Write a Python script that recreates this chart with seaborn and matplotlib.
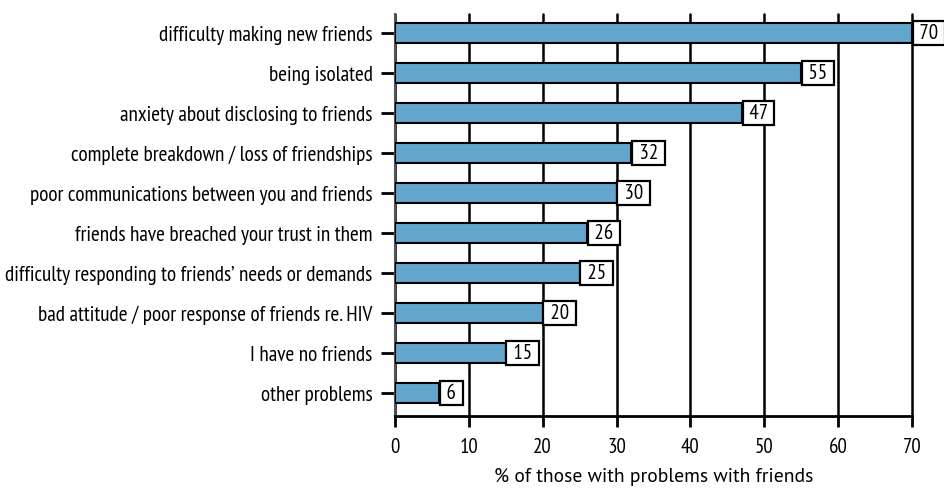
import matplotlib
matplotlib.use("Agg")
import matplotlib.pyplot as plt
import seaborn as sns
import pandas as pd

categories = [
    "difficulty making new friends",
    "being isolated",
    "anxiety about disclosing to friends",
    "complete breakdown / loss of friendships",
    "poor communications between you and friends",
    "friends have breached your trust in them",
    "difficulty responding to friends\u2019 needs or demands",
    "bad attitude / poor response of friends re. HIV",
    "I have no friends",
    "other problems",
]
values = [70, 55, 47, 32, 30, 26, 25, 20, 15, 6]
xticks = [0, 10, 20, 30, 40, 50, 60, 70]
xlabel = "% of those with problems with friends"

df = pd.DataFrame({"category": categories, "value": values})

sns.set_theme(style="white")
narrow = ["PT Sans Narrow", "Open Sans Condensed", "DejaVu Sans"]
plt.rcParams["font.family"] = narrow
plt.rcParams["text.color"] = "black"
plt.rcParams["xtick.color"] = "black"
plt.rcParams["ytick.color"] = "black"
plt.rcParams["axes.labelcolor"] = "black"

fig = plt.figure(figsize=(9.44, 4.88), dpi=100)
ax = fig.add_axes([0.4184, 0.1475, 0.9661 - 0.4184, 0.9713 - 0.1475])

sns.barplot(data=df, x="value", y="category", orient="h", color="#64a5cc",
            saturation=1, width=0.5, edgecolor="black", linewidth=1.5, ax=ax, zorder=3)

ax.set_xlim(0, 70)
ax.set_ylim(9.575, -0.475)
ax.set_xticks(xticks)
ax.set_xticklabels([str(t) for t in xticks], fontsize=15)
ax.tick_params(axis="y", labelsize=15.3, length=10, width=2, color="black", pad=6, left=True)
ax.tick_params(axis="x", length=8, width=2, color="black", pad=8, bottom=True)
ax.grid(axis="x", color="black", linewidth=1.8, zorder=0)
ax.grid(axis="y", visible=False)
for gl in ax.get_xgridlines():
    gl.set_clip_on(False)
ax.set_axisbelow(True)

for s in ["top", "right"]:
    ax.spines[s].set_visible(False)
ax.spines["left"].set_color("#555555")
ax.spines["left"].set_linewidth(1.5)
ax.spines["bottom"].set_color("black")
ax.spines["bottom"].set_linewidth(2)

ax.set_ylabel("")
ax.set_xlabel(xlabel, fontsize=14, family=["PT Sans", "Open Sans", "DejaVu Sans"], labelpad=8)

pad = 0.12
fs = 15
for i, v in enumerate(values):
    ax.annotate(" " + str(v) + " ", xy=(v, i), xytext=(pad * fs + 0.5, 0), textcoords="offset points",
                ha="left", va="center", fontsize=fs, zorder=5, annotation_clip=False,
                bbox=dict(boxstyle=f"square,pad={pad}", fc="white", ec="black", lw=1.6))

fig.savefig("out.png", dpi=100)
